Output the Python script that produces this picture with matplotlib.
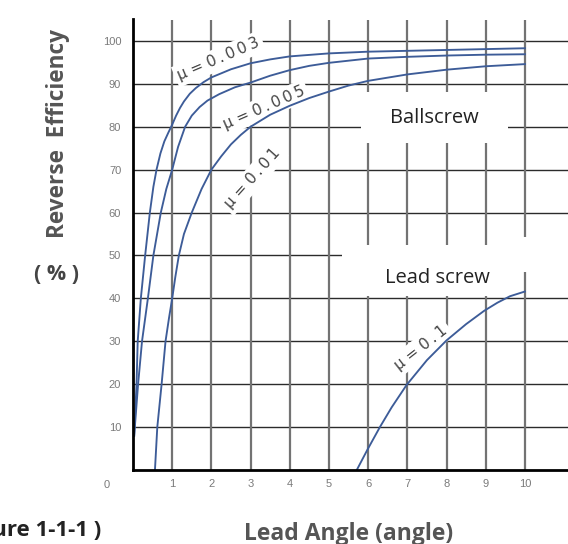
import matplotlib.pyplot as plt
from matplotlib.patches import Rectangle

plt.rcParams['font.family'] = ['Open Sans', 'DejaVu Sans']

# reverse efficiency curves read per friction coefficient
angle_003 = [0.03, 0.09, 0.12, 0.2, 0.31, 0.43, 0.52, 0.6, 0.7, 0.8, 0.9, 1.0, 1.1, 1.2, 1.3, 1.45,
             1.6, 1.8, 2.0, 2.5, 3.0, 3.5, 4.0, 5.0, 6.0, 7.0, 8.0, 9.0, 10.0]
eff_003 = [8, 20, 30, 40, 50, 60, 66, 70, 73.8, 76.6, 78.6, 80.5, 82.6, 84.4, 85.9, 87.7,
           89.0, 90.4, 91.5, 93.4, 94.8, 95.7, 96.4, 97.1, 97.5, 97.7, 97.9, 98.1, 98.3]

angle_005 = [0.03, 0.13, 0.23, 0.38, 0.52, 0.71, 0.85, 1.0, 1.15, 1.33, 1.5, 1.7, 1.9, 2.2, 2.6,
             3.0, 3.5, 4.0, 4.5, 5.0, 6.0, 7.0, 8.0, 9.0, 10.0]
eff_005 = [8, 20, 30, 40, 50, 60, 65.5, 70, 75.3, 80, 82.6, 84.6, 86.1, 87.6, 89.2,
           90.3, 91.9, 93.2, 94.2, 94.9, 95.9, 96.3, 96.6, 96.8, 96.9]

angle_01 = [0.56, 0.62, 0.73, 0.83, 0.92, 1.0, 1.08, 1.17, 1.3, 1.5, 1.75, 2.0, 2.25, 2.5, 2.75,
            3.0, 3.5, 4.0, 4.5, 5.0, 5.5, 6.0, 7.0, 8.0, 9.0, 10.0]
eff_01 = [0, 10, 20, 30, 35.5, 40, 45, 50, 55, 60, 65.5, 70, 73.1, 75.9, 78.1,
          80, 82.8, 84.9, 86.7, 88.2, 89.6, 90.7, 92.2, 93.3, 94.1, 94.6]

angle_lead = [5.71, 5.98, 6.3, 6.6, 6.98, 7.5, 8.0, 8.5, 8.96, 9.3, 9.62, 10.0]
eff_lead = [0, 4.7, 10.0, 14.6, 19.8, 25.6, 30.2, 34.0, 37.1, 39.0, 40.5, 41.6]

x_ticks = [1, 2, 3, 4, 5, 6, 7, 8, 9, 10]
y_ticks = [10, 20, 30, 40, 50, 60, 70, 80, 90, 100]

XMAX, YMAX = 11.1, 105
blue = '#3d5c98'

fig = plt.figure(figsize=(5.68, 5.44), dpi=100)
ax = fig.add_axes([133 / 568, 74 / 544, 435 / 568, 450.5 / 544])
ax.set_xlim(0, XMAX)
ax.set_ylim(0, YMAX)

# grid drawn by hand: horizontal dark & thin, vertical grey & heavier
ax.hlines(y_ticks, 0, XMAX, colors='#2b2b2b', lw=1.0, zorder=1)
ax.vlines(x_ticks, 0, YMAX, colors='#737373', lw=1.6, zorder=1)

# blank areas behind the section captions
for (x0, y0, w, h) in [(5.83, 76.3, 3.74, 11.8),
                       (5.33, 40.6, 4.54, 11.8),
                       (9.87, 46.2, 0.26, 8.1),
                       (10.13, 40.6, 1.0, 11.8)]:
    ax.add_patch(Rectangle((x0, y0), w, h, facecolor='white', edgecolor='none', zorder=2))

for xs, ys in [(angle_003, eff_003), (angle_005, eff_005), (angle_01, eff_01), (angle_lead, eff_lead)]:
    ax.plot(xs, ys, color=blue, lw=1.35, zorder=3, solid_joinstyle='round')

def mu_label(x, y, val, rot):
    txt = 'μ = ' + '\u2009'.join(val)
    ax.text(x, y, txt, rotation=rot, rotation_mode='anchor', ha='center', va='center',
            fontsize=11, color='#444444', family=['DejaVu Sans'], zorder=2.5,
            bbox=dict(facecolor='white', edgecolor='none', pad=2.5))

mu_label(2.19, 95.8, '0.003', 23)
mu_label(3.34, 84.4, '0.005', 23.5)
mu_label(3.06, 68.0, '0.01', 48)
mu_label(7.35, 28.5, '0.1', 38)

ax.text(7.70, 82.0, 'Ballscrew', ha='center', va='center', fontsize=14.5, color='#222222', zorder=4)
ax.text(7.78, 44.8, 'Lead screw', ha='center', va='center', fontsize=14.5, color='#222222', zorder=4)

# axes frame
for side in ['top', 'right']:
    ax.spines[side].set_visible(False)
for side in ['left', 'bottom']:
    ax.spines[side].set_color('black')
    ax.spines[side].set_linewidth(2.0)
    ax.spines[side].set_zorder(5)

ax.set_xticks(x_ticks)
ax.set_xticklabels([str(v) for v in x_ticks])
ax.set_yticks(y_ticks)
ax.set_yticklabels([str(v) for v in y_ticks])
ax.tick_params(length=0, labelsize=8, labelcolor='#7a7a7a')
ax.tick_params(axis='x', pad=6.5)
ax.tick_params(axis='y', pad=8.5)
for lbl in ax.get_xticklabels() + ax.get_yticklabels():
    lbl.set_family('Liberation Sans')
ax.text(-0.66, -3.5, '0', ha='center', va='center', fontsize=8, color='#7a7a7a',
        family='Liberation Sans', clip_on=False)

fig.text(58 / 568, 1 - 134 / 544, 'Reverse  Efficiency', rotation=90, ha='center', va='center',
         fontsize=16.3, fontweight='bold', color='#555555')
fig.text(57 / 568, 1 - 275 / 544, '( % )', ha='center', va='center',
         fontsize=15.5, fontweight='bold', color='#444444')
fig.text(349 / 568, 1 - 522 / 544, 'Lead Angle (angle)', ha='center', va='top',
         fontsize=16.5, fontweight='bold', color='#555555')
fig.text(101 / 568, 1 - 520 / 544, '(Figure 1-1-1 )', ha='right', va='top',
         fontsize=16, fontweight='bold', color='#222222')

fig.savefig('out.png', dpi=100)
